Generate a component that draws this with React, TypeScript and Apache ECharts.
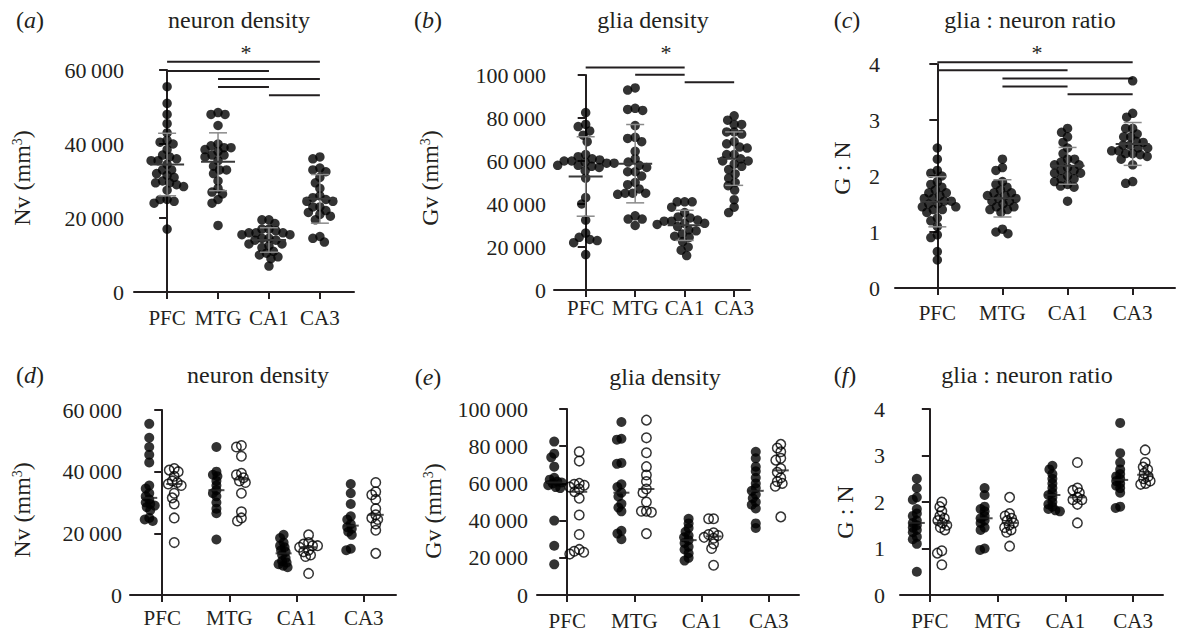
import React, { useEffect, useRef } from 'react';
import * as echarts from 'echarts';

const categories = ['PFC', 'MTG', 'CA1', 'CA3'];

// neuron density (Nv, per mm3): filled vs open groups, per region
const nvFilled = [
  [55500, 51000, 48000, 45500, 43000, 35500, 34500, 33000, 32000, 31000, 30000, 29500, 29000, 28500, 27500, 25000, 24500, 24000],
  [48000, 40000, 39000, 38500, 37000, 35500, 34000, 33000, 32000, 30000, 28000, 26500, 18000],
  [19500, 18500, 17000, 16000, 15500, 14500, 14000, 13000, 12000, 11000, 10500, 10000, 9500, 9000],
  [36000, 33000, 29500, 25500, 24500, 23000, 22000, 21500, 20500, 19500, 15000, 14500],
];
const nvOpen = [
  [41000, 40500, 40000, 38500, 37000, 36500, 36000, 35500, 33000, 31500, 29500, 25000, 17000],
  [48500, 48000, 45000, 39500, 39000, 38000, 37000, 36500, 33000, 27000, 25000, 24000],
  [19500, 17000, 16500, 16000, 16000, 15500, 14500, 14000, 13000, 12500, 7000],
  [36500, 33500, 32500, 31000, 28000, 26000, 25000, 24500, 23000, 21000, 13500],
];

// glia density (Gv, per mm3)
const gvFilled = [
  [82500, 76000, 74000, 69000, 63000, 62000, 61000, 60500, 60000, 59000, 58000, 57500, 40000, 26500, 16500],
  [93000, 84000, 83500, 71000, 70500, 59500, 58000, 55000, 53000, 49000, 47000, 45000, 34500, 33000, 30000],
  [41000, 38500, 36000, 34000, 32000, 31000, 29500, 28000, 26000, 24500, 22500, 20000, 18500],
  [77000, 73500, 69000, 66500, 63000, 60000, 57500, 56000, 54000, 52000, 50000, 48500, 46500, 38500, 36000],
];
const gvOpen = [
  [77000, 72000, 60000, 59500, 59000, 58000, 57000, 55500, 52000, 43000, 32500, 24500, 23500, 23000, 22000],
  [94000, 84500, 76500, 69000, 64500, 61000, 57000, 55000, 50000, 45000, 45000, 44500, 33000],
  [41000, 41000, 33500, 32500, 32000, 31000, 30500, 27500, 25000, 16000],
  [81000, 79000, 77000, 73500, 72500, 68000, 66000, 63000, 61000, 60000, 58500, 42000],
];

// glia : neuron ratio
const gnFilled = [
  [2.5, 2.3, 2.1, 2.05, 1.85, 1.75, 1.7, 1.6, 1.55, 1.5, 1.45, 1.4, 1.35, 1.25, 1.2, 1.1, 0.5],
  [2.3, 2.15, 1.9, 1.85, 1.8, 1.7, 1.65, 1.6, 1.55, 1.45, 1.4, 1.0, 0.97],
  [2.78, 2.7, 2.6, 2.5, 2.4, 2.3, 2.2, 2.15, 2.1, 2.0, 1.95, 1.9, 1.85, 1.82, 1.8],
  [3.7, 3.05, 2.85, 2.7, 2.6, 2.55, 2.5, 2.45, 2.4, 2.35, 2.3, 2.2, 1.9, 1.87],
];
const gnOpen = [
  [2.0, 1.9, 1.8, 1.7, 1.65, 1.6, 1.55, 1.5, 1.45, 1.4, 0.95, 0.9, 0.65],
  [2.1, 1.75, 1.7, 1.65, 1.6, 1.55, 1.5, 1.45, 1.4, 1.35, 1.05],
  [2.85, 2.3, 2.25, 2.2, 2.1, 2.05, 2.05, 1.95, 1.55],
  [3.12, 2.85, 2.75, 2.7, 2.62, 2.55, 2.5, 2.45, 2.4, 2.38],
];

// significance brackets: [from category, to category, height]
const nvBrackets = [[0, 3, 62200], [0, 2, 59700], [1, 3, 57600], [1, 2, 55400], [2, 3, 53200]];
const gvBrackets = [[0, 2, 103500], [1, 2, 100100], [2, 3, 96600]];
const gnBrackets = [[0, 3, 4.03], [0, 2, 3.89], [1, 3, 3.74], [1, 2, 3.6], [2, 3, 3.46]];

const titles = ['neuron density', 'glia density', 'glia : neuron ratio'];
const letters = ['a', 'b', 'c', 'd', 'e', 'f'];
const yMaxes = [60000, 100000, 4];
const yIntervals = [20000, 20000, 1];

const FONT = '"Liberation Serif", "Times New Roman", serif';
const INK = '#231f20';

const TOP = [
  { left: 134, top: 70, width: 220, height: 222, xMin: -0.65, xMax: 3.67, catMargin: 15, valMargin: 10, swarmD: 7 },
  { left: 554, top: 75, width: 196, height: 215, xMin: -0.64, xMax: 3.32, catMargin: 7, valMargin: 8, swarmD: 7.5 },
  { left: 895, top: 64, width: 280, height: 224, xMin: -0.65, xMax: 3.65, catMargin: 14, valMargin: 15, swarmD: 7 },
];
const BOTTOM = [
  { left: 130, top: 410, width: 266, height: 185, xMin: -0.48, xMax: 3.48, catMargin: 12, valMargin: 8 },
  { left: 537, top: 409, width: 262, height: 186, xMin: -0.45, xMax: 3.45, catMargin: 15, valMargin: 9 },
  { left: 900, top: 409, width: 263, height: 186, xMin: -0.44, xMax: 3.44, catMargin: 15, valMargin: 15 },
];

const fmt = (v: number) =>
  v >= 1000 ? `${Math.floor(v / 1000)}\u2009${String(v % 1000).padStart(3, '0')}` : String(v);

function swarm(values: number[], pxPerVal: number, pxPerCat: number, d: number): number[] {
  const idx = values.map((_, i) => i).sort((a, b) => values[b] - values[a]);
  const placed: { x: number; y: number }[] = [];
  const out = new Array(values.length).fill(0);
  for (const i of idx) {
    const y = values[i] * pxPerVal;
    let best = 0;
    for (let k = 0; k < 600; k++) {
      const cand = (k % 2 === 0 ? 1 : -1) * Math.ceil(k / 2) * 0.5;
      if (placed.every((p) => (p.x - cand) ** 2 + (p.y - y) ** 2 >= d * d)) {
        best = cand;
        break;
      }
    }
    placed.push({ x: best, y });
    out[i] = best / pxPerCat;
  }
  return out;
}

const mean = (a: number[]) => a.reduce((s, v) => s + v, 0) / a.length;
const sd = (a: number[]) => {
  const m = mean(a);
  return Math.sqrt(a.reduce((s, v) => s + (v - m) ** 2, 0) / (a.length - 1));
};
const median = (a: number[]) => {
  const s = [...a].sort((x, y) => x - y);
  const n = s.length;
  return n % 2 ? s[(n - 1) / 2] : (s[n / 2 - 1] + s[n / 2]) / 2;
};

function buildOption() {
  const filled = [nvFilled, gvFilled, gnFilled];
  const open = [nvOpen, gvOpen, gnOpen];
  const brackets = [nvBrackets, gvBrackets, gnBrackets];
  const layouts = [...TOP, ...BOTTOM];

  const grid = layouts.map((p) => ({
    left: p.left, top: p.top, width: p.width, height: p.height, containLabel: false, outerBoundsMode: 'none',
  }));

  const xAxis = layouts.map((p, i) => ({
    type: 'value', gridIndex: i, min: p.xMin, max: p.xMax,
    splitLine: { show: false },
    axisLine: { show: true, onZero: false, lineStyle: { color: INK, width: 2 } },
    axisTick: { show: true, customValues: [0, 1, 2, 3], length: 7, lineStyle: { color: INK, width: 2 } },
    axisLabel: {
      customValues: [0, 1, 2, 3], formatter: (v: number) => categories[Math.round(v)],
      margin: p.catMargin, fontFamily: FONT, fontSize: 21, color: INK,
    },
  }));

  const yAxis = layouts.map((p, i) => ({
    type: 'value', gridIndex: i, min: 0, max: yMaxes[i % 3], interval: yIntervals[i % 3],
    splitLine: { show: false },
    axisLine: { show: true, lineStyle: { color: INK, width: 2 } },
    axisTick: { show: true, length: 8, lineStyle: { color: INK, width: 2 } },
    axisLabel: { formatter: fmt, margin: p.valMargin, fontFamily: FONT, fontSize: 22, color: INK },
  }));

  const series: any[] = [];

  // top panels: all samples together, mean ± SD
  TOP.forEach((p, i) => {
    const pxPerVal = p.height / yMaxes[i];
    const pxPerCat = p.width / (p.xMax - p.xMin);
    const pts: number[][] = [];
    const err: number[][] = [];
    categories.forEach((_, c) => {
      const vals = [...filled[i][c], ...open[i][c]];
      const off = swarm(vals, pxPerVal, pxPerCat, p.swarmD);
      vals.forEach((v, k) => pts.push([c + off[k], v]));
      err.push([c, mean(vals), sd(vals)]);
    });
    series.push({
      type: 'scatter', xAxisIndex: i, yAxisIndex: i, data: pts, symbolSize: 9.5,
      itemStyle: { color: '#000' }, silent: true,
    });
    series.push({
      type: 'custom', xAxisIndex: i, yAxisIndex: i, data: err, silent: true, z: 5,
      renderItem: (_params: any, api: any) => {
        const x = api.value(0), m = api.value(1), s = api.value(2);
        const c = api.coord([x, m]);
        const t = api.coord([x, m + s]);
        const b = api.coord([x, m - s]);
        const gray = { stroke: '#8a8a8a', lineWidth: 1.5 };
        return {
          type: 'group',
          children: [
            { type: 'line', shape: { x1: c[0], y1: t[1], x2: c[0], y2: b[1] }, style: gray },
            { type: 'line', shape: { x1: c[0] - 9, y1: t[1], x2: c[0] + 9, y2: t[1] }, style: gray },
            { type: 'line', shape: { x1: c[0] - 9, y1: b[1], x2: c[0] + 9, y2: b[1] }, style: gray },
            { type: 'line', shape: { x1: c[0] - 17, y1: c[1], x2: c[0] + 17, y2: c[1] }, style: { stroke: '#3a3a3a', lineWidth: 2 } },
          ],
        };
      },
    });
    series.push({
      type: 'custom', xAxisIndex: i, yAxisIndex: i, data: brackets[i], silent: true, clip: false,
      encode: { x: [0, 1], y: 2 },
      renderItem: (_params: any, api: any) => {
        const a = api.coord([api.value(0), api.value(2)]);
        const b = api.coord([api.value(1), api.value(2)]);
        return { type: 'line', shape: { x1: a[0], y1: a[1], x2: b[0], y2: b[1] }, style: { stroke: INK, lineWidth: 2 } };
      },
    });
  });

  // bottom panels: filled and open groups side by side, with median lines
  BOTTOM.forEach((p, j) => {
    const i = j + 3;
    const pxPerVal = p.height / yMaxes[j];
    const pxPerCat = p.width / (p.xMax - p.xMin);
    const shiftF = -13 / pxPerCat;
    const shiftO = 12 / pxPerCat;
    const fPts: number[][] = [];
    const oPts: number[][] = [];
    const meds: number[][] = [];
    categories.forEach((_, c) => {
      const fv = filled[j][c];
      const ov = open[j][c];
      const fo = swarm(fv, pxPerVal, pxPerCat, 4.5);
      const oo = swarm(ov, pxPerVal, pxPerCat, 5);
      fv.forEach((v, k) => fPts.push([c + shiftF + fo[k], v]));
      ov.forEach((v, k) => oPts.push([c + shiftO + oo[k], v]));
      meds.push([c + shiftF, median(fv)]);
      meds.push([c + shiftO, median(ov)]);
    });
    series.push({
      type: 'scatter', xAxisIndex: i, yAxisIndex: i, data: fPts, symbolSize: 10,
      itemStyle: { color: '#000' }, silent: true,
    });
    series.push({
      type: 'scatter', xAxisIndex: i, yAxisIndex: i, data: oPts, symbolSize: 9.5,
      itemStyle: { color: 'rgba(255,255,255,0)', borderColor: '#000', borderWidth: 1.5 }, silent: true,
    });
    series.push({
      type: 'scatter', xAxisIndex: i, yAxisIndex: i, data: meds, symbol: 'rect', symbolSize: [16, 2],
      itemStyle: { color: '#222' }, silent: true, z: 5,
    });
  });

  const txt = (text: string, x: number, y: number, extra: any = {}) => ({
    type: 'text', x, y, silent: true, ...extra,
    style: {
      text, fill: INK, fontFamily: FONT, fontSize: 24,
      align: 'center', verticalAlign: 'middle', textAlign: 'center', textVerticalAlign: 'middle',
      rich: {
        i: { fontStyle: 'italic', fontFamily: FONT, fontSize: 24, fill: INK },
        sup: { fontFamily: FONT, fontSize: 14, fill: INK, verticalAlign: 'top' },
      },
      ...(extra.style || {}),
    },
  });

  const labelPos = [[30, 20], [428, 20], [847, 20], [30, 375], [428, 377], [845, 375]];
  const titlePos = [[239, 20], [653, 20], [1030, 20], [258, 375], [665, 377], [1027, 375]];
  const yNames = ['Nv (mm{sup|3})', 'Gv (mm{sup|3})', 'G : N'];
  const yNamePos = [[22, 178], [430, 178], [842, 168], [22, 510], [433, 511], [845, 512]];
  const starPos = [[246, 52], [666, 52], [1037, 52]];

  const graphic: any[] = [];
  letters.forEach((l, k) => {
    graphic.push(txt(`({i|${l}})`, labelPos[k][0], labelPos[k][1]));
    graphic.push(txt(titles[k % 3], titlePos[k][0], titlePos[k][1]));
    graphic.push(txt(yNames[k % 3], yNamePos[k][0], yNamePos[k][1], { rotation: Math.PI / 2 }));
  });
  starPos.forEach(([x, y]) => graphic.push(txt('*', x, y, { style: { fontSize: 22 } })));

  return { animation: false, backgroundColor: '#ffffff', grid, xAxis, yAxis, series, graphic };
}

export default function App() {
  const ref = useRef<HTMLDivElement>(null);
  useEffect(() => {
    if (!ref.current) return;
    const chart = echarts.init(ref.current, undefined, { renderer: 'svg' });
    chart.setOption(buildOption() as any);
    return () => chart.dispose();
  }, []);
  return (
    <div
      ref={ref}
      style={{ position: 'fixed', left: 0, top: 0, width: 1177, height: 631, background: '#fff' }}
    />
  );
}
